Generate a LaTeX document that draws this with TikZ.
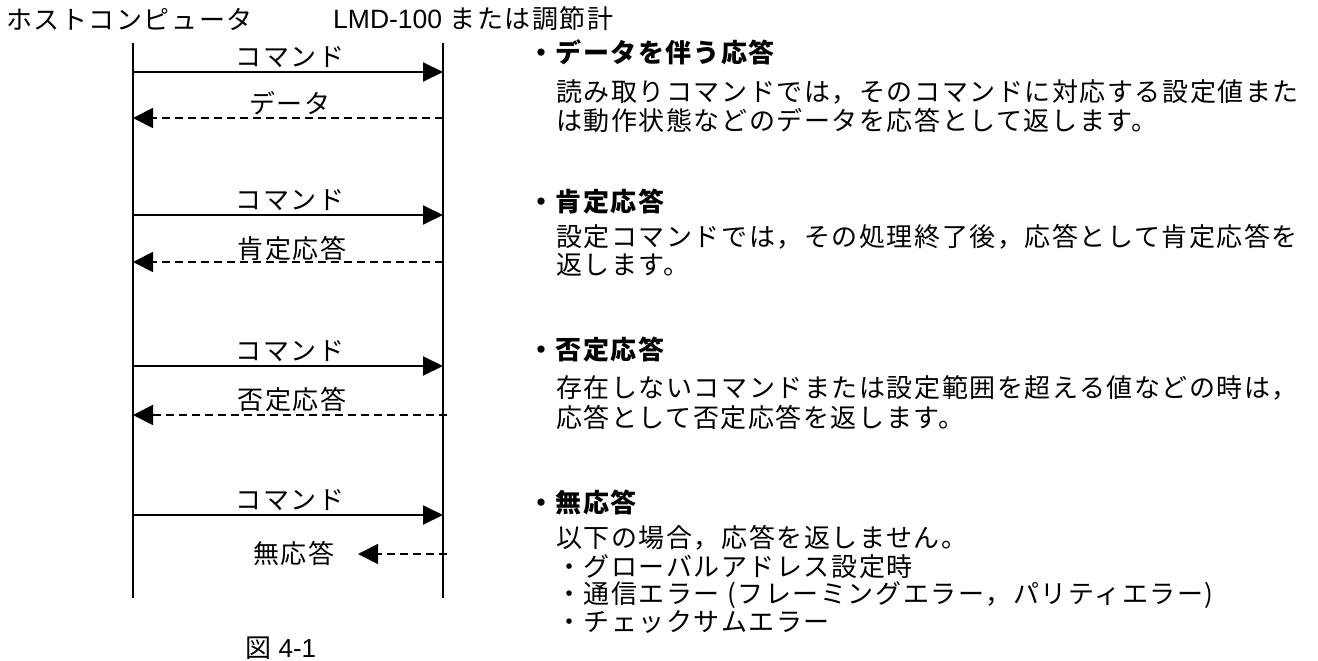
\documentclass[tikz,border=0pt]{standalone}
\usepackage{fontspec}
\setmainfont{Noto Sans CJK JP}[LetterSpace=6]
\newfontfamily\lat{Liberation Sans}
\usetikzlibrary{arrows.meta}
\tikzset{
  life/.style={line width=2pt},
  cmd/.style={line width=2pt,-{Triangle[length=20pt,width=19pt]}},
  resp/.style={line width=1.8pt,dash pattern=on 8pt off 5pt,-{Triangle[length=20pt,width=20pt]}},
  lbl/.style={inner sep=0pt, font=\fontsize{26pt}{28pt}\selectfont},
  txt/.style={inner sep=0pt, anchor=west, font=\fontsize{26pt}{28pt}\selectfont},
  head/.style={txt, font=\fontsize{26pt}{28pt}\selectfont\bfseries},
}
\begin{document}
\begin{tikzpicture}[x=1pt,y=-1pt]
\useasboundingbox (0,0) rectangle (1318,661);
% titles
\node[txt] (host) at (6,19) {ホストコンピュータ};
\node[txt] (dev) at (333,19) {{\lat\fontsize{26.5pt}{28pt}\selectfont LMD-100} または調節計};
% lifelines
\coordinate (LT) at (133,43);
\coordinate (LB) at (133,598);
\coordinate (RT) at (443,43);
\coordinate (RB) at (443,598);
\draw[life] (LT) -- (LB);
\draw[life] (RT) -- (RB);
% exchange 1
\coordinate (c1l) at (133,72);  \coordinate (c1r) at (443,72);
\coordinate (r1r) at (443,118); \coordinate (r1l) at (133,118);
\draw[cmd] (c1l) -- (c1r);
\draw[resp] (r1r) -- (r1l);
\node[lbl] (lc1) at (290,57) {コマンド};
\node[lbl] (lr1) at (290,103) {データ};
% exchange 2
\coordinate (c2l) at (133,215); \coordinate (c2r) at (443,215);
\coordinate (r2r) at (443,262); \coordinate (r2l) at (133,262);
\draw[cmd] (c2l) -- (c2r);
\draw[resp] (r2r) -- (r2l);
\node[lbl] (lc2) at (290,200) {コマンド};
\node[lbl] (lr2) at (292,248) {肯定応答};
% exchange 3
\coordinate (c3l) at (133,366); \coordinate (c3r) at (443,366);
\coordinate (r3r) at (447,415); \coordinate (r3l) at (133,415);
\draw[cmd] (c3l) -- (c3r);
\draw[resp] (r3r) -- (r3l);
\node[lbl] (lc3) at (290,351) {コマンド};
\node[lbl] (lr3) at (292,399) {否定応答};
% exchange 4
\coordinate (c4l) at (133,515); \coordinate (c4r) at (443,515);
\coordinate (r4r) at (447,554); \coordinate (r4l) at (358,554);
\draw[cmd] (c4l) -- (c4r);
\draw[resp] (r4r) -- (r4l);
\node[lbl] (lc4) at (290,500) {コマンド};
\node[lbl] (lr4) at (294,553) {無応答};
% figure caption
\node[txt] (fig) at (245,648) {図 {\lat\fontsize{26pt}{28pt}\selectfont 4-1}};
% descriptions
\node[head] (h1) at (528,52) {・データを伴う応答};
\node[txt] (b1a) at (556,92) {読み取りコマンドでは，そのコマンドに対応する設定値また};
\node[txt] (b1b) at (556,120) {は動作状態などのデータを応答として返します。};
\node[head] (h2) at (528,202) {・肯定応答};
\node[txt] (b2a) at (556,237) {設定コマンドでは，その処理終了後，応答として肯定応答を};
\node[txt] (b2b) at (556,265) {返します。};
\node[head] (h3) at (528,350) {・否定応答};
\node[txt] (b3a) at (556,388) {存在しないコマンドまたは設定範囲を超える値などの時は，};
\node[txt] (b3b) at (556,417) {応答として否定応答を返します。};
\node[head] (h4) at (528,502) {・無応答};
\node[txt] (b4a) at (556,538) {以下の場合，応答を返しません。};
\node[txt] (b4b) at (556,567) {・グローバルアドレス設定時};
\node[txt] (b4c) at (556,595) {・通信エラー (フレーミングエラー，パリティエラー)};
\node[txt] (b4d) at (556,622) {・チェックサムエラー};
\end{tikzpicture}
\end{document}
